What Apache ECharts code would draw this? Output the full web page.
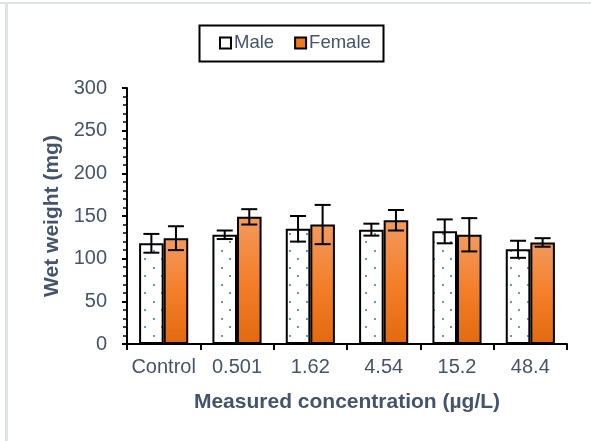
<!DOCTYPE html>
<html>
<head>
<meta charset="utf-8">
<script src="https://cdn.jsdelivr.net/npm/echarts@6/dist/echarts.min.js"></script>
<style>
  html, body { margin: 0; padding: 0; background: #fff; }
  #chart { width: 591px; height: 441px; }
</style>
</head>
<body>
<div id="chart"></div>
<script>
// Wet weight by measured concentration, mean ± error per sex
const categories = ['Control', '0.501', '1.62', '4.54', '15.2', '48.4'];
const maleMean = [118, 128, 135, 134, 132, 111];
const maleErr = [11, 5, 15, 7, 14, 10];
const femaleMean = [124, 149, 140, 145, 128, 119];
const femaleErr = [14, 9, 23, 12, 19.5, 5];
const yTicks = [0, 50, 100, 150, 200, 250, 300];

const TEXT = '#44546A';
const FONT = '"Liberation Sans", Arial, sans-serif';
const CAT_GAP = 0.33;

// dotted fill for the male bars
function dotPattern() {
  const c = document.createElement('canvas');
  c.width = 17; c.height = 17;
  const g = c.getContext('2d');
  g.fillStyle = '#fff';
  g.fillRect(0, 0, 17, 17);
  g.fillStyle = '#5B9BD5';
  g.fillRect(8, 3, 2, 2);
  g.fillRect(0, 12, 2, 2);
  return c;
}

const femaleFill = new echarts.graphic.LinearGradient(0, 0, 0, 1, [
  { offset: 0, color: '#F29A5E' },
  { offset: 0.5, color: '#F47F2A' },
  { offset: 1, color: '#E2690E' }
]);

function errorSeries(name, mean, err, side) {
  return {
    type: 'custom',
    name: name + ' err',
    z: 10,
    data: mean.map((m, i) => [i, m - err[i], m + err[i]]),
    renderItem: function (params, api) {
      const band = api.size([1, 0])[0];
      const bw = band * (1 - CAT_GAP) / 2;
      const lo = api.coord([api.value(0), api.value(1)]);
      const hi = api.coord([api.value(0), api.value(2)]);
      const x = lo[0] + side * bw / 2;
      const cap = 8;
      const style = { stroke: '#000', lineWidth: 2 };
      return {
        type: 'group',
        children: [
          { type: 'line', shape: { x1: x, y1: hi[1], x2: x, y2: lo[1] }, style: style },
          { type: 'line', shape: { x1: x - cap, y1: hi[1], x2: x + cap, y2: hi[1] }, style: style },
          { type: 'line', shape: { x1: x - cap, y1: lo[1], x2: x + cap, y2: lo[1] }, style: style }
        ]
      };
    }
  };
}

const chart = echarts.init(document.getElementById('chart'), null, { renderer: 'canvas' });
const malePattern = { image: dotPattern(), repeat: 'repeat' };

chart.setOption({
  animation: false,
  backgroundColor: '#fff',
  textStyle: { fontFamily: FONT },
  graphic: [
    { type: 'rect', shape: { x: 0, y: 2, width: 591, height: 2 }, style: { fill: '#dfe3e8' } },
    { type: 'rect', shape: { x: 5, y: 4, width: 3, height: 437 }, style: { fill: '#dfe3e8' } },
    { type: 'rect', shape: { x: 199.5, y: 25.5, width: 184, height: 36 }, style: { fill: 'none', stroke: '#000', lineWidth: 2 } }
  ],
  legend: {
    top: 33,
    left: 219,
    padding: 0,
    itemGap: 20,
    itemWidth: 11,
    itemHeight: 11,
    textStyle: { color: TEXT, fontSize: 18.5, lineHeight: 20, fontFamily: FONT, padding: [0, 0, 0, -2] },
    data: [
      { name: 'Male', icon: 'rect', itemStyle: { color: '#fff', borderColor: '#000', borderWidth: 2 } },
      { name: 'Female', icon: 'rect', itemStyle: { color: '#F07820', borderColor: '#000', borderWidth: 2 } }
    ]
  },
  grid: { left: 127, right: 24, top: 88, bottom: 97, containLabel: false },
  xAxis: {
    type: 'category',
    data: categories,
    name: 'Measured concentration (µg/L)',
    nameLocation: 'middle',
    nameGap: 48,
    nameTextStyle: { color: TEXT, fontSize: 21, fontWeight: 'bold', fontFamily: FONT },
    axisLine: { lineStyle: { color: '#000', width: 2 } },
    axisTick: { show: true, interval: 0, alignWithLabel: false, length: 6, lineStyle: { color: '#000', width: 2 } },
    axisLabel: { color: TEXT, fontSize: 20, margin: 13, interval: 0, hideOverlap: false, fontFamily: FONT }
  },
  yAxis: {
    type: 'value',
    min: yTicks[0],
    max: yTicks[yTicks.length - 1],
    interval: 50,
    name: 'Wet weight (mg)',
    nameLocation: 'middle',
    nameGap: 63,
    nameTextStyle: { color: TEXT, fontSize: 21, fontWeight: 'bold', fontFamily: FONT },
    axisLine: { show: true, lineStyle: { color: '#000', width: 2 } },
    axisTick: { show: true, length: 5, lineStyle: { color: '#000', width: 2 } },
    minorTick: { show: true, splitNumber: 5, length: 4, lineStyle: { color: '#000', width: 1.5 } },
    splitLine: { show: false },
    axisLabel: { color: TEXT, fontSize: 20, margin: 20, fontFamily: FONT }
  },
  series: [
    {
      name: 'Male',
      type: 'bar',
      data: maleMean,
      barGap: '0%',
      barCategoryGap: (CAT_GAP * 100) + '%',
      itemStyle: { color: malePattern, borderColor: '#000', borderWidth: 2 }
    },
    {
      name: 'Female',
      type: 'bar',
      data: femaleMean,
      barGap: '0%',
      barCategoryGap: (CAT_GAP * 100) + '%',
      itemStyle: { color: femaleFill, borderColor: '#000', borderWidth: 2 }
    },
    errorSeries('Male', maleMean, maleErr, -1),
    errorSeries('Female', femaleMean, femaleErr, 1)
  ]
});
</script>
</body>
</html>
